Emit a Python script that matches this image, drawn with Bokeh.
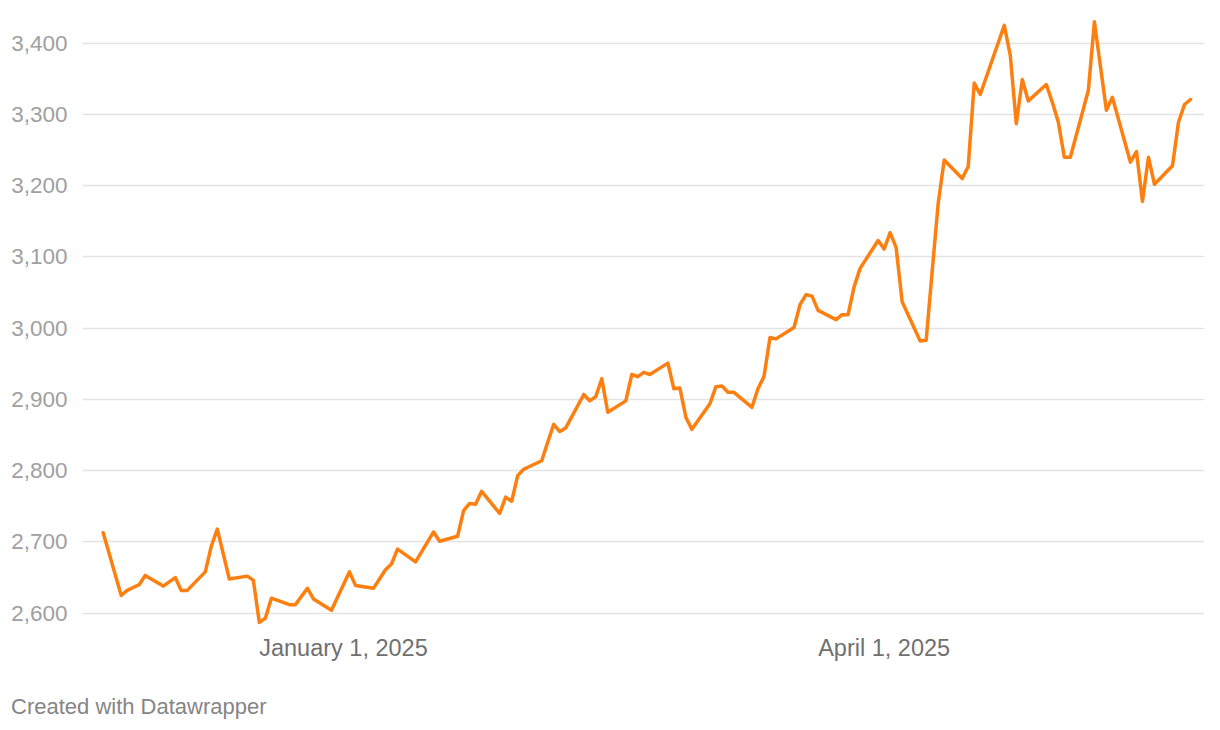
import pandas as pd
from bokeh.plotting import figure
from bokeh.layouts import column
from bokeh.models import (Range1d, FixedTicker, NumeralTickFormatter, Div,
                          ColumnDataSource, CustomJSTickFormatter)
from bokeh.embed import file_html
from bokeh.resources import INLINE

# ---- data ----
dates = [
    "2024-11-22", "2024-11-25", "2024-11-26", "2024-11-27", "2024-11-28", "2024-11-29",
    "2024-12-02", "2024-12-04", "2024-12-05", "2024-12-06", "2024-12-09", "2024-12-10",
    "2024-12-11", "2024-12-13", "2024-12-16", "2024-12-17", "2024-12-18", "2024-12-19",
    "2024-12-20", "2024-12-23", "2024-12-24", "2024-12-26", "2024-12-27", "2024-12-30",
    "2025-01-02", "2025-01-03", "2025-01-06", "2025-01-08", "2025-01-09", "2025-01-10",
    "2025-01-13", "2025-01-16", "2025-01-17", "2025-01-20", "2025-01-21", "2025-01-22",
    "2025-01-23", "2025-01-24", "2025-01-27", "2025-01-28", "2025-01-29", "2025-01-30",
    "2025-01-31", "2025-02-03", "2025-02-04", "2025-02-05", "2025-02-06", "2025-02-07",
    "2025-02-10", "2025-02-11", "2025-02-12", "2025-02-13", "2025-02-14", "2025-02-17",
    "2025-02-18", "2025-02-19", "2025-02-20", "2025-02-21", "2025-02-24", "2025-02-25",
    "2025-02-26", "2025-02-27", "2025-02-28", "2025-03-03", "2025-03-04", "2025-03-05",
    "2025-03-06", "2025-03-07", "2025-03-10", "2025-03-11", "2025-03-12", "2025-03-13",
    "2025-03-14", "2025-03-17", "2025-03-18", "2025-03-19", "2025-03-20", "2025-03-21",
    "2025-03-24", "2025-03-25", "2025-03-26", "2025-03-27", "2025-03-28", "2025-03-31",
    "2025-04-01", "2025-04-02", "2025-04-03", "2025-04-04", "2025-04-07", "2025-04-08",
    "2025-04-09", "2025-04-10", "2025-04-11", "2025-04-14", "2025-04-15", "2025-04-16",
    "2025-04-17", "2025-04-21", "2025-04-22", "2025-04-23", "2025-04-24", "2025-04-25",
    "2025-04-28", "2025-04-29", "2025-04-30", "2025-05-01", "2025-05-02", "2025-05-05",
    "2025-05-06", "2025-05-08", "2025-05-09", "2025-05-12", "2025-05-13", "2025-05-14",
    "2025-05-15", "2025-05-16", "2025-05-19", "2025-05-20", "2025-05-21", "2025-05-22",
]
prices = [
    2713, 2625, 2632, 2636, 2640, 2653,
    2638, 2650, 2632, 2632, 2658, 2694,
    2718, 2648, 2652, 2646, 2587, 2593,
    2621, 2612, 2612, 2635, 2620, 2604,
    2658, 2639, 2635, 2661, 2669, 2690,
    2672, 2714, 2701, 2708, 2744, 2754,
    2753, 2771, 2740, 2763, 2757, 2793,
    2802, 2814, 2840, 2865, 2855, 2860,
    2907, 2898, 2904, 2929, 2882, 2898,
    2935, 2932, 2938, 2935, 2951, 2915,
    2916, 2875, 2858, 2894, 2918, 2919,
    2910, 2910, 2889, 2915, 2932, 2987,
    2985, 3001, 3033, 3047, 3045, 3025,
    3012, 3019, 3019, 3058, 3084, 3123,
    3111, 3134, 3113, 3037, 2982, 2983,
    3080, 3175, 3236, 3210, 3227, 3344,
    3328, 3425, 3383, 3287, 3349, 3319,
    3342, 3317, 3289, 3240, 3240, 3334,
    3430, 3306, 3324, 3233, 3248, 3178,
    3240, 3202, 3228, 3289, 3314, 3321,
]
y_ticks = [2600, 2700, 2800, 2900, 3000, 3100, 3200, 3300, 3400]
x_tick_dates = ["2025-01-01", "2025-04-01"]
x_tick_labels = ["January 1, 2025", "April 1, 2025"]
footer_text = "Created with Datawrapper"

# ---- main figure ----
W = 1204
src = ColumnDataSource(dict(date=pd.to_datetime(dates), price=prices))

x_start = pd.Timestamp(dates[0]) - pd.Timedelta(hours=3.44 * 24)
x_end = pd.Timestamp(dates[-1]) + pd.Timedelta(hours=2.33 * 24)

p = figure(width=W, height=690, x_axis_type="datetime",
           x_range=Range1d(x_start, x_end), y_range=Range1d(2575.7, 3445.9),
           output_backend="svg", toolbar_location=None,
           min_border_left=82, min_border_right=0, min_border_top=10,
           min_border_bottom=60)
p.outline_line_color = None
p.background_fill_color = "white"
p.border_fill_color = "white"

p.line("date", "price", source=src, line_color="#fd7f0f", line_width=3.5,
       line_join="round", line_cap="round")

FONT = "Liberation Sans"

# y axis
p.yaxis.ticker = FixedTicker(ticks=y_ticks)
p.yaxis.formatter = NumeralTickFormatter(format="0,0")
p.yaxis.axis_line_color = None
p.yaxis.major_tick_line_color = None
p.yaxis.minor_tick_line_color = None
p.yaxis.major_tick_out = 0
p.yaxis.major_tick_in = 0
p.yaxis.major_label_standoff = 15
p.yaxis.major_label_text_font = FONT
p.yaxis.major_label_text_font_size = "22.5px"
p.yaxis.major_label_text_color = "#a0a0a0"

# x axis
tick_ms = [int(pd.Timestamp(d).timestamp() * 1000) for d in x_tick_dates]
p.xaxis.ticker = FixedTicker(ticks=tick_ms)
p.xaxis.formatter = CustomJSTickFormatter(
    args=dict(tick_vals=tick_ms, tick_texts=x_tick_labels),
    code="""
    for (let i = 0; i < tick_vals.length; i++) {
        if (Math.abs(tick_vals[i] - tick) < 1000) return tick_texts[i];
    }
    return '';
    """)
p.xaxis.axis_line_color = None
p.xaxis.major_tick_line_color = None
p.xaxis.minor_tick_line_color = None
p.xaxis.major_tick_out = 0
p.xaxis.major_tick_in = 0
p.xaxis.major_label_standoff = 4
p.xaxis.major_label_text_font = FONT
p.xaxis.major_label_text_font_size = "23.5px"
p.xaxis.major_label_text_color = "#707070"

# grid
p.xgrid.grid_line_color = None
p.ygrid.ticker = FixedTicker(ticks=y_ticks)
p.ygrid.grid_line_color = "#e3e3e3"
p.ygrid.grid_line_width = 1.5

# ---- footer ----
footer = Div(
    text=('<div style="padding-left:6px; font-family:\'Liberation Sans\'; '
          'font-size:22px; color:#858585; line-height:24px; white-space:nowrap;">'
          + footer_text + '</div>'),
    width=W, height=32)

layout = column(p, footer, spacing=0)
open("out.html", "w").write(file_html(layout, INLINE))
